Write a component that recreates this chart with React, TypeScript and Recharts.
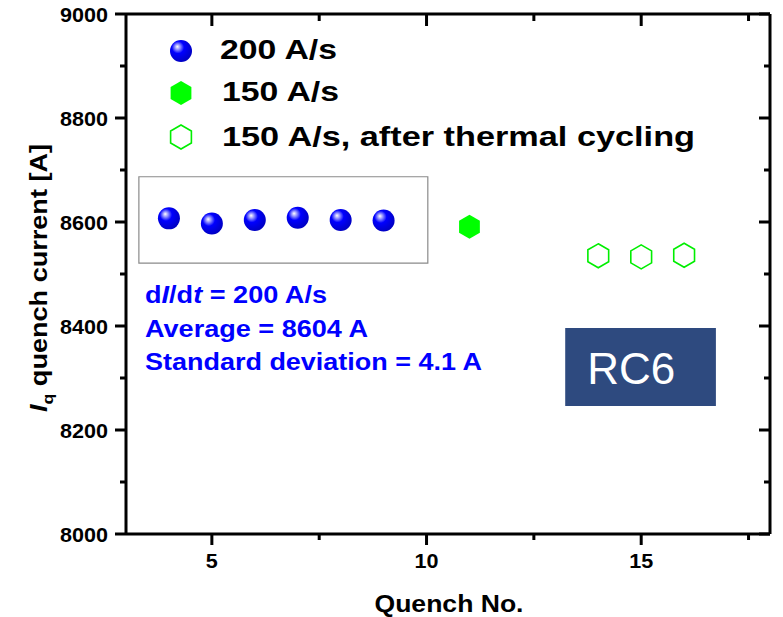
import React from 'react';
import {
  ScatterChart,
  Scatter,
  XAxis,
  YAxis,
  ReferenceArea,
  Legend,
  Customized,
} from 'recharts';

// quench number / quench current [A]
const quench200 = [4, 5, 6, 7, 8, 9];
const current200 = [8607, 8597, 8604, 8608, 8604, 8603];
const quench150 = [11];
const current150 = [8591];
const quenchCycled = [14, 15, 16];
const currentCycled = [8535, 8533, 8536];

const xTicks = [5, 7.5, 10, 12.5, 15, 17.5];
const yTicks = [8000, 8100, 8200, 8300, 8400, 8500, 8600, 8700, 8800, 8900, 9000];

const legendLabels = ['200 A/s', '150 A/s', '150 A/s, after thermal cycling'];
const noteLines = ['Average = 8604 A', 'Standard deviation = 4.1 A'];

const FONT = '"Liberation Sans", Arial, sans-serif';
const BLUE = '#0000ff';
const GREEN = '#00ff00';

const W = 783;
const H = 617;
const MARGIN = { top: 14, right: 13, bottom: 0, left: 0 };
const PLOT_TOP = MARGIN.top;
const PLOT_RIGHT = W - MARGIN.right;

const data200 = quench200.map((q, i) => ({ q, iq: current200[i] }));
const data150 = quench150.map((q, i) => ({ q, iq: current150[i] }));
const dataCycled = quenchCycled.map((q, i) => ({ q, iq: currentCycled[i] }));

const hexPoints = (cx: number, cy: number, r: number) =>
  [-90, -30, 30, 90, 150, 210]
    .map((a) => {
      const t = (a * Math.PI) / 180;
      return `${cx + r * Math.cos(t)},${cy + r * Math.sin(t)}`;
    })
    .join(' ');

const SphereDefs = ({ id }: { id: string }) => (
  <defs>
    <radialGradient id={id} cx="0.4" cy="0.38" r="0.62" fx="0.33" fy="0.3">
      <stop offset="0%" stopColor="#ffffff" />
      <stop offset="18%" stopColor="#9a9aff" />
      <stop offset="45%" stopColor="#0000ff" />
      <stop offset="100%" stopColor="#0000c4" />
    </radialGradient>
  </defs>
);

const Sphere = ({ cx, cy, grad = 'sphereGrad' }: any) => (
  <circle cx={cx} cy={cy} r={11} fill={`url(#${grad})`} />
);
const HexFilled = ({ cx, cy }: any) => (
  <polygon points={hexPoints(cx, cy, 12)} fill={GREEN} />
);
const HexOpen = ({ cx, cy }: any) => (
  <polygon points={hexPoints(cx, cy, 12)} fill="#fff" stroke="#00ee00" strokeWidth={1.6} />
);

// bottom ticks also draw the inward mirror tick on the top frame
const BottomTick = ({ x, y, payload }: any) => {
  const major = Number.isInteger(payload.value);
  const s = String(payload.value);
  return (
    <g>
      <line x1={x} x2={x} y1={y} y2={y + (major ? 11 : 6)} stroke="#000" strokeWidth={3} />
      <line x1={x} x2={x} y1={PLOT_TOP} y2={PLOT_TOP + (major ? 12 : 7)} stroke="#000" strokeWidth={3} />
      {major && (
        <text
          x={x}
          y={y + 34}
          textAnchor="middle"
          fontFamily={FONT}
          fontWeight="bold"
          fontSize={21}
          fill="#000"
          textLength={s.length * 12}
          lengthAdjust="spacingAndGlyphs"
        >
          {s}
        </text>
      )}
    </g>
  );
};
// left ticks also draw the inward mirror tick on the right frame
const LeftTick = ({ x, y, payload }: any) => {
  const major = payload.value % 200 === 0;
  const s = String(payload.value);
  return (
    <g>
      <line x1={x - (major ? 11 : 6)} x2={x} y1={y} y2={y} stroke="#000" strokeWidth={3} />
      <line x1={PLOT_RIGHT - (major ? 11 : 6)} x2={PLOT_RIGHT} y1={y} y2={y} stroke="#000" strokeWidth={3} />
      {major && (
        <text
          x={x - 18}
          y={y + 7.5}
          textAnchor="end"
          fontFamily={FONT}
          fontWeight="bold"
          fontSize={21}
          fill="#000"
          textLength={s.length * 12}
          lengthAdjust="spacingAndGlyphs"
        >
          {s}
        </text>
      )}
    </g>
  );
};

const YLabel = ({ viewBox }: any) => {
  const cx = viewBox.x + 47;
  const cy = viewBox.y + viewBox.height / 2 + 4;
  return (
    <text
      x={cx}
      y={cy}
      transform={`rotate(-90, ${cx}, ${cy})`}
      textAnchor="middle"
      fontFamily={FONT}
      fontWeight="bold"
      fontSize={23}
      fill="#000"
      textLength={268}
      lengthAdjust="spacingAndGlyphs"
    >
      <tspan fontStyle="italic">I</tspan>
      <tspan fontSize={15} dy={6}>q</tspan>
      <tspan dy={-6}> quench current [A]</tspan>
    </text>
  );
};

const XLabel = ({ viewBox }: any) => (
  <text
    x={viewBox.x + viewBox.width / 2 + 1}
    y={viewBox.y + 78}
    textAnchor="middle"
    fontFamily={FONT}
    fontWeight="bold"
    fontSize={24}
    fill="#000"
    textLength={149}
    lengthAdjust="spacingAndGlyphs"
  >
    Quench No.
  </text>
);

const LegendBox = () => {
  const rows = [26, 68, 112];
  return (
    <svg width={560} height={135} style={{ display: 'block' }}>
      <SphereDefs id="legendSphere" />
      <Sphere cx={21} cy={rows[0]} grad="legendSphere" />
      <HexFilled cx={21} cy={rows[1]} />
      <HexOpen cx={21} cy={rows[2]} />
      {legendLabels.map((t, i) => (
        <text
          key={t}
          x={i === 0 ? 60 : 62}
          y={rows[i] + (i === 2 ? 9 : 8)}
          fontFamily={FONT}
          fontWeight="bold"
          fontSize={28}
          fill="#000"
          textLength={i === 2 ? 473 : 117}
          lengthAdjust="spacingAndGlyphs"
        >
          {t}
        </text>
      ))}
    </svg>
  );
};

const Notes = () => (
  <g fontFamily={FONT} fontWeight="bold" fontSize={24} fill={BLUE}>
    <text x={145} y={303} textLength={182} lengthAdjust="spacingAndGlyphs">
      d<tspan fontStyle="italic">I</tspan>/d<tspan fontStyle="italic">t</tspan> = 200 A/s
    </text>
    <text x={145} y={337} textLength={223} lengthAdjust="spacingAndGlyphs">
      {noteLines[0]}
    </text>
    <text x={145} y={370} textLength={337} lengthAdjust="spacingAndGlyphs">
      {noteLines[1]}
    </text>
  </g>
);

const RcLabel = ({ viewBox }: any) => (
  <text x={viewBox.x + 22} y={viewBox.y + 56} fontFamily={FONT} fontSize={44} fill="#fff">
    RC6
  </text>
);

export default function App() {
  return (
    <div style={{ position: 'absolute', left: 0, top: 0, background: '#fff' }}>
      <ScatterChart width={W} height={H} margin={{ ...MARGIN, top: MARGIN.top - 1, right: MARGIN.right - 1 }}>
        <Customized component={<SphereDefs id="sphereGrad" />} />
        <XAxis
          xAxisId="t"
          orientation="top"
          type="number"
          domain={[3, 18]}
          height={1}
          tick={false}
          tickLine={false}
          axisLine={{ stroke: '#000', strokeWidth: 3 }}
          allowDataOverflow
        />
        <YAxis
          yAxisId="r"
          orientation="right"
          type="number"
          domain={[8000, 9000]}
          width={1}
          tick={false}
          tickLine={false}
          axisLine={{ stroke: '#000', strokeWidth: 3 }}
          allowDataOverflow
        />
        <XAxis
          xAxisId="b"
          dataKey="q"
          type="number"
          domain={[3, 18]}
          ticks={xTicks}
          interval={0}
          height={83}
          tickSize={0}
          tickMargin={0}
          tickLine={false}
          tick={<BottomTick />}
          axisLine={{ stroke: '#000', strokeWidth: 3 }}
          allowDataOverflow
          label={<XLabel />}
        />
        <YAxis
          yAxisId="l"
          dataKey="iq"
          type="number"
          domain={[8000, 9000]}
          ticks={yTicks}
          interval={0}
          width={126}
          tickSize={0}
          tickMargin={0}
          tickLine={false}
          tick={<LeftTick />}
          axisLine={{ stroke: '#000', strokeWidth: 3 }}
          allowDataOverflow
          label={<YLabel />}
        />
        <ReferenceArea
          xAxisId="b"
          yAxisId="l"
          x1={3.3}
          x2={10.03}
          y1={8521}
          y2={8687}
          fill="none"
          stroke="#8a8a8a"
          strokeWidth={1.2}
          ifOverflow="visible"
        />
        <ReferenceArea
          xAxisId="b"
          yAxisId="l"
          x1={13.23}
          x2={16.74}
          y1={8246}
          y2={8396}
          fill="#2e4a7f"
          fillOpacity={1}
          stroke="none"
          label={<RcLabel />}
        />
        <Customized component={<Notes />} />
        <Scatter
          name={legendLabels[0]}
          xAxisId="b"
          yAxisId="l"
          data={data200}
          shape={(p: any) => <Sphere cx={p.cx} cy={p.cy} />}
          isAnimationActive={false}
        />
        <Scatter
          name={legendLabels[1]}
          xAxisId="b"
          yAxisId="l"
          data={data150}
          shape={(p: any) => <HexFilled cx={p.cx} cy={p.cy} />}
          isAnimationActive={false}
        />
        <Scatter
          name={legendLabels[2]}
          xAxisId="b"
          yAxisId="l"
          data={dataCycled}
          shape={(p: any) => <HexOpen cx={p.cx} cy={p.cy} />}
          isAnimationActive={false}
        />
        <Legend
          layout="vertical"
          align="center"
          verticalAlign="middle"
          wrapperStyle={{ left: 160, top: 25, width: 560 }}
          content={() => <LegendBox />}
        />
      </ScatterChart>
    </div>
  );
}
